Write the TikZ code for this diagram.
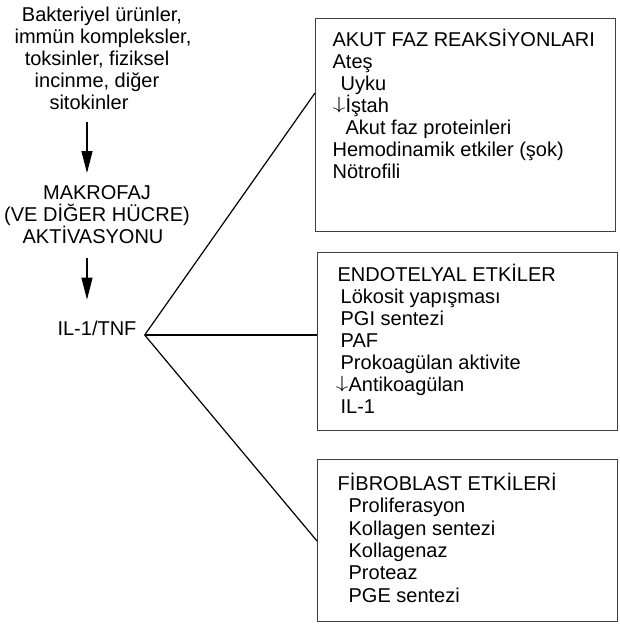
\documentclass[tikz,border=0pt]{standalone}
\usepackage{fontspec}
\usepackage{graphicx}
\setmainfont{Liberation Sans}
\usetikzlibrary{arrows.meta}
\setlength{\lineskiplimit}{-30pt}
\newcommand\myfont{\fontsize{20}{22}\selectfont\setlength{\lineskiplimit}{-30pt}}
\newcommand\dnarrow{\raisebox{3.2pt}{\scalebox{1.25}[0.85]{$\downarrow$}}}
\begin{document}
\begin{tikzpicture}[x=1pt,y=-1pt,
  txt/.style={font=\myfont, inner sep=0pt, align=center},
  box/.style={draw=black!75, line width=1.3pt, inner sep=0pt, anchor=north west, font=\myfont},
  arr/.style={line width=1.2pt, -{Triangle[length=22pt,width=11pt]}},
  link/.style={line width=1.2pt}]
\useasboundingbox (0,0) rectangle (619,626);
\node[txt, anchor=north] (src) at (97,7) {\hspace*{10pt}Bakteriyel ürünler,\\\hspace*{12pt}immün kompleksler,\\toksinler, fiziksel\\incinme, diğer\hspace*{14pt}\\sitokinler\hspace*{16pt}};
\node[txt, anchor=north] (mak) at (97,185.7) {MAKROFAJ\\(VE DİĞER HÜCRE)\\AKTİVASYONU\hspace*{8pt}};
\node[font=\myfont, inner sep=0pt, anchor=base] (il) at (97,335) {IL-1/TNF};
\coordinate (j) at ([xshift=8pt]il.base east);
\draw[arr] ([xshift=-10pt,yshift=-12pt]src.south) -- ([xshift=-10pt,yshift=12.7pt]mak.north);
\draw[arr] ([xshift=-10pt,yshift=-14pt]mak.south) -- ([xshift=-10pt,yshift=20.7pt]il.north);
\node[box] (b1) at (315,18) {\parbox[t][213pt][t]{300pt}{\setlength{\lineskiplimit}{-30pt}%
\rule{0pt}{28pt}\hspace*{17pt}AKUT FAZ REAKSİYONLARI\\
\hspace*{17pt}Ateş\\
\hspace*{25pt}Uyku\\
\hspace*{17pt}\dnarrow İştah\\
\hspace*{30pt}Akut faz proteinleri\\
\hspace*{17pt}Hemodinamik etkiler (şok)\\
\hspace*{17pt}Nötrofili}};
\node[box] (b2) at (317,252) {\parbox[t][178pt][t]{300pt}{\setlength{\lineskiplimit}{-30pt}%
\rule{0pt}{29pt}\hspace*{20pt}ENDOTELYAL ETKİLER\\
\hspace*{23pt}Lökosit yapışması\\
\hspace*{23pt}PGI sentezi\\
\hspace*{23pt}PAF\\
\hspace*{23pt}Prokoagülan aktivite\\
\hspace*{18pt}\dnarrow Antikoagülan\\
\hspace*{23pt}IL-1}};
\node[box] (b3) at (317,459) {\parbox[t][162pt][t]{300pt}{\fontsize{20}{22.3}\selectfont\setlength{\lineskiplimit}{-30pt}%
\rule{0pt}{31pt}\hspace*{20pt}FİBROBLAST ETKİLERİ\\
\hspace*{31pt}Proliferasyon\\
\hspace*{31pt}Kollagen sentezi\\
\hspace*{31pt}Kollagenaz\\
\hspace*{31pt}Proteaz\\
\hspace*{31pt}PGE sentezi}};
\draw[link] (j) -- ([yshift=-75pt]b1.north west);
\draw[link] (j) -- (j -| b2.west);
\draw[link] (j) -- ([yshift=-82pt]b3.north west);
\end{tikzpicture}
\end{document}
